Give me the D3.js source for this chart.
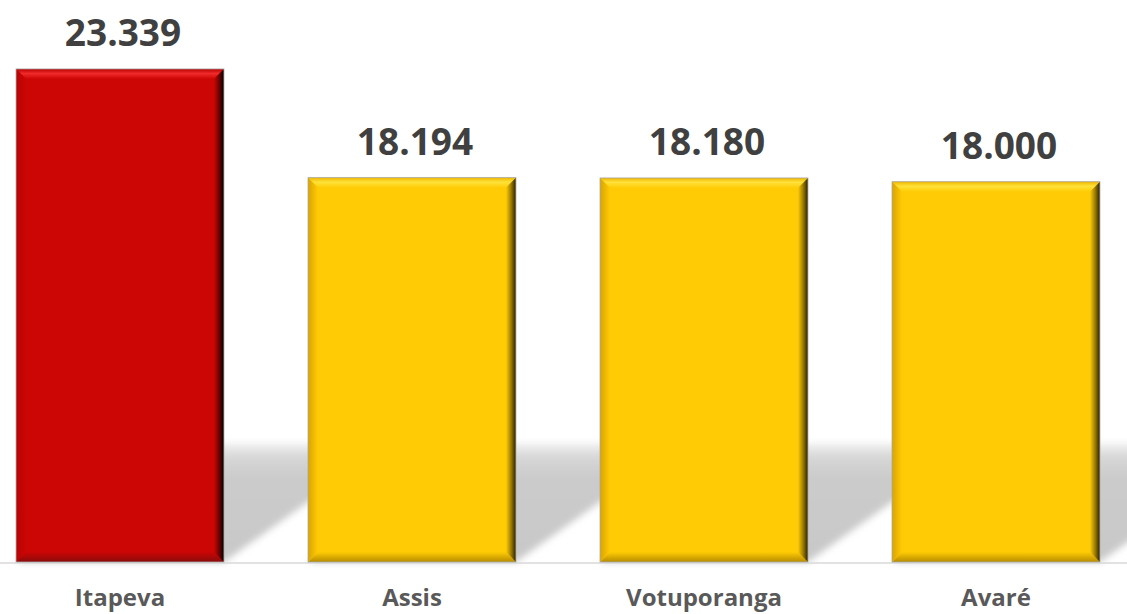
<!DOCTYPE html>
<html>
<head>
<meta charset="utf-8">
<script src="https://cdn.jsdelivr.net/npm/d3@7"></script>
<style>
  html, body { margin: 0; padding: 0; background: #fff; }
  svg { display: block; }
</style>
</head>
<body>
<div id="chart"></div>
<script>
// chart data
var cities = ["Itapeva", "Assis", "Votuporanga", "Avaré"];
var values = [23339, 18194, 18180, 18000];
var valueLabels = ["23.339", "18.194", "18.180", "18.000"];
var highlight = ["Itapeva"];

var width = 1127, height = 614;
var base = 562;
var bev = 10;

var svg = d3.select("#chart").append("svg")
    .attr("width", width).attr("height", height);
var defs = svg.append("defs");

// scales
var x = d3.scaleBand()
    .domain(cities)
    .range([-26, 1142])
    .paddingInner(0.288)
    .paddingOuter(0.144);

var y = d3.scaleLinear()
    .domain([0, 24000])
    .range([base, 55]);

// colour sets for the bevel look
var palette = {
    red: {main: "#cc0505", top: "#f02a2a", topEdge: "#b80000", left: "#b80303", bottom: "#8a0a0a", right: "#000000"},
    yellow: {main: "#ffcb05", top: "#ffe23a", topEdge: "#f0b800", left: "#d9a400", bottom: "#b88c00", right: "#2a2000"}
};

function grad(id, x2, y2, stops) {
    var g = defs.append("linearGradient").attr("id", id)
        .attr("x1", 0).attr("y1", 0).attr("x2", x2).attr("y2", y2);
    stops.forEach(function (s) {
        g.append("stop").attr("offset", s[0]).attr("stop-color", s[1]);
    });
}
Object.keys(palette).forEach(function (k) {
    var p = palette[k];
    grad("top-" + k, 0, 1, [[0, p.topEdge], [0.45, p.top], [1, p.main]]);
    grad("right-" + k, 1, 0, [[0, p.main], [0.5, d3.interpolateRgb(p.main, p.right)(0.45)], [1, p.right]]);
    grad("bottom-" + k, 0, 1, [[0, p.main], [1, p.bottom]]);
    grad("left-" + k, 1, 0, [[0, p.left], [1, p.main]]);
});

// shadow
grad("shadowGrad", 0, 1, [[0, "#f2f2f2"], [0.12, "#d6d6d6"], [0.3, "#cbcbcb"], [1, "#c8c8c8"]]);
var blur = defs.append("filter").attr("id", "soft")
    .attr("x", "-20%").attr("y", "-20%").attr("width", "140%").attr("height", "140%");
blur.append("feGaussianBlur").attr("stdDeviation", 3.5);

var shH = 119, shX = 167;
svg.append("g").selectAll("polygon")
    .data(cities)
    .enter().append("polygon")
    .attr("points", function (d) {
        var x0 = x(d), x1 = x(d) + x.bandwidth();
        return [[x0, base], [x1, base], [x1 + shX, base - shH], [x0 + shX, base - shH]]
            .map(function (p) { return p.join(","); }).join(" ");
    })
    .attr("fill", "url(#shadowGrad)")
    .attr("filter", "url(#soft)");

// baseline
svg.append("line")
    .attr("x1", 0).attr("x2", width)
    .attr("y1", base + 1).attr("y2", base + 1)
    .attr("stroke", "#d9d9d9").attr("stroke-width", 1.5);

// bars
var bars = svg.append("g").selectAll("g")
    .data(cities)
    .enter().append("g");

bars.each(function (d, i) {
    var g = d3.select(this);
    var k = highlight.indexOf(d) >= 0 ? "red" : "yellow";
    var x0 = x(d), x1 = x(d) + x.bandwidth();
    var y0 = y(values[i]), y1 = base;
    function poly(pts, fill) {
        g.append("polygon")
            .attr("points", pts.map(function (p) { return p.join(","); }).join(" "))
            .attr("fill", fill);
    }
    g.append("rect")
        .attr("x", x0).attr("y", y0)
        .attr("width", x1 - x0).attr("height", y1 - y0)
        .attr("fill", palette[k].main);
    poly([[x0, y0], [x1, y0], [x1 - bev, y0 + bev], [x0 + bev, y0 + bev]], "url(#top-" + k + ")");
    poly([[x0, y1], [x1, y1], [x1 - bev, y1 - bev], [x0 + bev, y1 - bev]], "url(#bottom-" + k + ")");
    poly([[x0, y0], [x0 + bev, y0 + bev], [x0 + bev, y1 - bev], [x0, y1]], "url(#left-" + k + ")");
    poly([[x1, y0], [x1 - bev, y0 + bev], [x1 - bev, y1 - bev], [x1, y1]], "url(#right-" + k + ")");
    g.append("rect")
        .attr("x", x0).attr("y", y0)
        .attr("width", x1 - x0).attr("height", y1 - y0)
        .attr("fill", "none")
        .attr("stroke", "#a6a6a6").attr("stroke-width", 0.8);
});

// value labels
svg.append("g").selectAll("text")
    .data(cities)
    .enter().append("text")
    .attr("x", function (d) { return x(d) + x.bandwidth() / 2 + 3; })
    .attr("y", function (d, i) { return y(values[i]) - 23; })
    .attr("text-anchor", "middle")
    .attr("font-family", "'Open Sans', sans-serif")
    .attr("font-weight", "bold")
    .attr("font-size", 37)
    .attr("fill", "#404040")
    .text(function (d, i) { return valueLabels[i]; });

// category labels
svg.append("g").selectAll("text")
    .data(cities)
    .enter().append("text")
    .attr("x", function (d) { return x(d) + x.bandwidth() / 2; })
    .attr("y", 606)
    .attr("text-anchor", "middle")
    .attr("font-family", "'Open Sans', sans-serif")
    .attr("font-weight", "bold")
    .attr("font-size", 24)
    .attr("fill", "#595959")
    .text(function (d) { return d; });
</script>
</body>
</html>
